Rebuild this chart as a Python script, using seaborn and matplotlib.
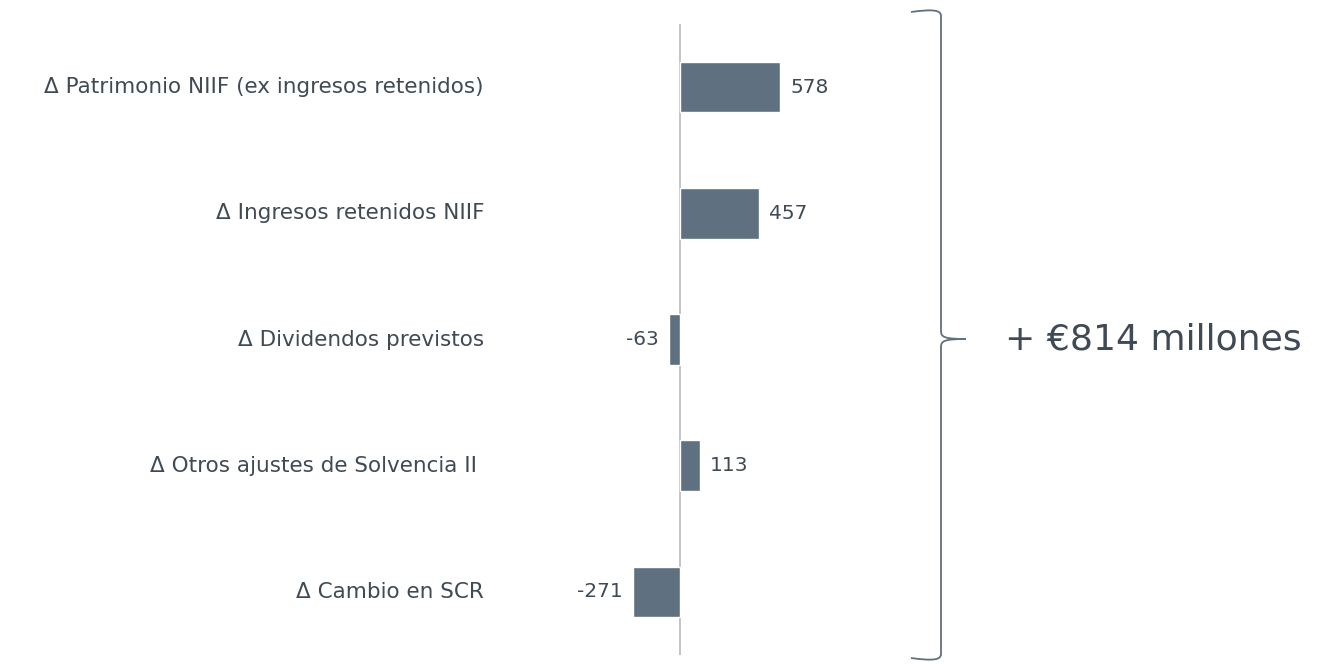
import matplotlib
matplotlib.use("Agg")
import matplotlib.pyplot as plt
from matplotlib.path import Path
from matplotlib.patches import PathPatch
import seaborn as sns
import pandas as pd

categories = [
    "Δ Patrimonio NIIF (ex ingresos retenidos)",
    "Δ Ingresos retenidos NIIF",
    "Δ Dividendos previstos",
    "Δ Otros ajustes de Solvencia II ",
    "Δ Cambio en SCR",
]
values = [578, 457, -63, 113, -271]
total_label = "+ €814 millones"

BAR = "#5f7180"
TXT = "#3f4a55"
W, H = 1325, 664

sns.set_theme(style="white")
plt.rcParams["font.family"] = ["DejaVu Sans"]

fig = plt.figure(figsize=(W / 100, H / 100), dpi=100)
ax_l, ax_r, ax_t, ax_b = 560, 880, 24, 655
ax = fig.add_axes([ax_l / W, (H - ax_b) / H, (ax_r - ax_l) / W, (ax_b - ax_t) / H])

df = pd.DataFrame({"cat": categories, "val": values})
sns.barplot(data=df, x="val", y="cat", color=BAR, width=0.4, saturation=1, ax=ax)

scale = 100 / 578.0  # px per unit
ax.set_xlim(-(680 - ax_l) / scale, (ax_r - 680) / scale)
ax.set_ylim(4.5, -0.5)
ax.axvline(0, color="#bfbfbf", lw=1.3, zorder=0)

for s in ax.spines.values():
    s.set_visible(False)
ax.set_xticks([])
ax.set_xlabel("")
ax.set_ylabel("")
ax.tick_params(axis="y", length=0, pad=(ax_l - 484) * 0.72, labelsize=15.5, labelcolor=TXT)
for lbl in ax.get_yticklabels():
    lbl.set_verticalalignment("center")

for i, v in enumerate(values):
    if v >= 0:
        ax.annotate(f"{v}", (v, i), xytext=(7.5, 0), textcoords="offset points",
                    ha="left", va="center", fontsize=14.5, color=TXT)
    else:
        ax.annotate(f"{v}", (v, i), xytext=(-7.5, 0), textcoords="offset points",
                    ha="right", va="center", fontsize=14.5, color=TXT)

# brace (figure pixel coords, y from top)
def P(x, y):
    return (x / W, (H - y) / H)

xl, xv, xt = 911, 941, 966
yt, ym, yb = 10, 339, 660
verts = [
    P(xl, yt + 2), P(933, yt - 1), P(xv, yt), P(xv, yt + 6),
    P(xv, ym - 8),
    P(xv, ym - 2), P(944, ym), P(xt, ym),
    P(944, ym), P(xv, ym + 2), P(xv, ym + 8),
    P(xv, yb - 6),
    P(xv, yb), P(933, yb + 1), P(xl, yb - 2),
]
codes = [Path.MOVETO, Path.CURVE4, Path.CURVE4, Path.CURVE4,
         Path.LINETO,
         Path.CURVE4, Path.CURVE4, Path.CURVE4,
         Path.CURVE4, Path.CURVE4, Path.CURVE4,
         Path.LINETO,
         Path.CURVE4, Path.CURVE4, Path.CURVE4]
brace = PathPatch(Path(verts, codes), transform=fig.transFigure, fill=False,
                  edgecolor=BAR, lw=1.3)
fig.patches.append(brace)

fig.text(1005 / W, (H - 339) / H, total_label, ha="left", va="center",
         fontsize=26, color=TXT)

fig.savefig("out.png", dpi=100, facecolor="white")
